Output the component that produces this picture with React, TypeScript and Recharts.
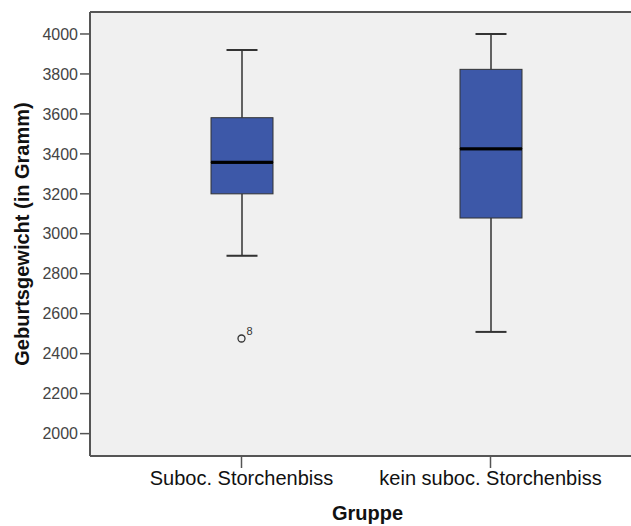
import { ComposedChart, Bar, Scatter, XAxis, YAxis, CartesianGrid, ReferenceLine, Label } from "recharts";

const groups = ["Suboc. Storchenbiss", "kein suboc. Storchenbiss"];
const minValues = [2890, 2509];
const q1Values = [3200, 3079];
const medianValues = [3358, 3426];
const q3Values = [3581, 3823];
const maxValues = [3920, 4000];
const outlierValues: (number | null)[] = [2476, null];
const outlierIds = ["8", ""];
const yTicks = [2000, 2200, 2400, 2600, 2800, 3000, 3200, 3400, 3600, 3800, 4000];

const Y_MIN = 1888;
const Y_MAX = 4110;

const BOX_FILL = "#3d58a8";
const LINE = "#333333";

const data = groups.map((g, i) => ({
  group: g,
  base: minValues[i],
  lowWhisker: q1Values[i] - minValues[i],
  boxLow: medianValues[i] - q1Values[i],
  boxHigh: q3Values[i] - medianValues[i],
  highWhisker: maxValues[i] - q3Values[i],
  outlier: outlierValues[i],
  outlierId: outlierIds[i],
}));

const LowWhisker = (props: any) => {
  const { x, y, width, height } = props;
  const cx = x + width / 2;
  return (
    <g>
      <line x1={cx} x2={cx} y1={y} y2={y + height} stroke={LINE} strokeWidth={1.5} />
      <line x1={cx - width / 4} x2={cx + width / 4} y1={y + height} y2={y + height} stroke={LINE} strokeWidth={2} />
    </g>
  );
};

const HighWhisker = (props: any) => {
  const { x, y, width, height } = props;
  const cx = x + width / 2;
  return (
    <g>
      <line x1={cx} x2={cx} y1={y} y2={y + height} stroke={LINE} strokeWidth={1.5} />
      <line x1={cx - width / 4} x2={cx + width / 4} y1={y} y2={y} stroke={LINE} strokeWidth={2} />
    </g>
  );
};

const BoxLow = (props: any) => {
  const { x, y, width, height } = props;
  return (
    <g>
      <rect x={x} y={y} width={width} height={height} fill={BOX_FILL} stroke={LINE} strokeWidth={1} />
      <line x1={x} x2={x + width} y1={y} y2={y} stroke="#000" strokeWidth={3} />
    </g>
  );
};

const BoxHigh = (props: any) => {
  const { x, y, width, height } = props;
  return (
    <g>
      <rect x={x} y={y} width={width} height={height} fill={BOX_FILL} stroke={LINE} strokeWidth={1} />
      <line x1={x} x2={x + width} y1={y + height} y2={y + height} stroke="#000" strokeWidth={3} />
    </g>
  );
};

const OutlierDot = (props: any) => {
  const { cx, cy, payload } = props;
  if (payload == null || payload.outlier == null) return <g />;
  return (
    <g>
      <circle cx={cx} cy={cy} r={3.5} fill="none" stroke={LINE} strokeWidth={1.3} />
      <text x={cx + 5} y={cy - 4} fontSize={11} fill={LINE} fontFamily="Liberation Sans, Arial, sans-serif">
        {payload.outlierId}
      </text>
    </g>
  );
};

export default function App() {
  return (
    <div style={{ position: "absolute", left: 0, top: 0, background: "#fff" }}>
      <ComposedChart
        width={631}
        height={526}
        data={data}
        margin={{ top: 12, right: 0, bottom: 0, left: 0 }}
        style={{ fontFamily: "Liberation Sans, Arial, sans-serif" }}
      >
        <CartesianGrid fill="#f0f0f0" horizontal={false} vertical={false} />
        <XAxis
          dataKey="group"
          height={70}
          padding={{ left: 27, right: 16 }}
          tickSize={12}
          tickMargin={3}
          axisLine={{ stroke: "#555", strokeWidth: 2 }}
          tickLine={{ stroke: "#555", strokeWidth: 1.5 }}
          tick={{ fill: "#111", fontSize: 20 }}
        >
          <Label value="Gruppe" position="center" dx={7} dy={22} fontSize={20} fontWeight="bold" fill="#111" />
        </XAxis>
        <YAxis
          type="number"
          width={90}
          domain={[Y_MIN, Y_MAX]}
          ticks={yTicks}
          allowDataOverflow
          tickSize={10}
          tickMargin={2}
          axisLine={{ stroke: "#555", strokeWidth: 2 }}
          tickLine={{ stroke: "#555", strokeWidth: 1.5 }}
          tick={{ fill: "#444", fontSize: 16 }}
        >
          <Label
            value="Geburtsgewicht (in Gramm)"
            position="center"
            angle={-90}
            dx={-23}
            fontSize={20}
            fontWeight="bold"
            fill="#111"
          />
        </YAxis>
        <ReferenceLine y={Y_MAX} stroke="#555" strokeWidth={2} />
        <Bar dataKey="base" stackId="a" fill="transparent" barSize={62} isAnimationActive={false} />
        <Bar dataKey="lowWhisker" stackId="a" barSize={62} shape={LowWhisker} isAnimationActive={false} />
        <Bar dataKey="boxLow" stackId="a" barSize={62} shape={BoxLow} isAnimationActive={false} />
        <Bar dataKey="boxHigh" stackId="a" barSize={62} shape={BoxHigh} isAnimationActive={false} />
        <Bar dataKey="highWhisker" stackId="a" barSize={62} shape={HighWhisker} isAnimationActive={false} />
        <Scatter dataKey="outlier" shape={OutlierDot} isAnimationActive={false} />
      </ComposedChart>
    </div>
  );
}
